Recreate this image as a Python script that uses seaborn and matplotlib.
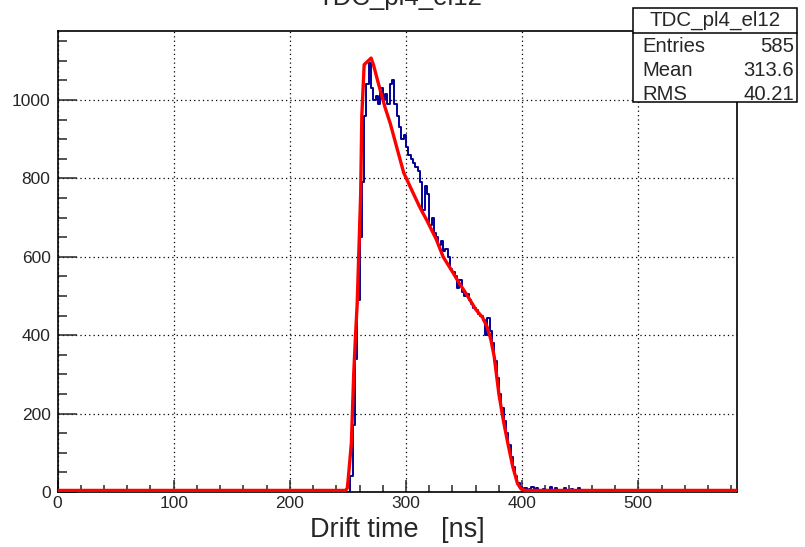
import numpy as np
import pandas as pd
import seaborn as sns
import matplotlib.pyplot as plt
from matplotlib.ticker import MultipleLocator

# histogram data: 2 ns bins
bin_width = 2
x_max = 586
signal_start = 250
signal_counts = [0, 40, 170, 340, 490, 650, 790, 960, 1040, 1095,
                 1030, 1000, 1010, 990, 1030, 1000, 1015, 990, 1040, 1050,
                 990, 960, 930, 900, 910, 880, 860, 850, 840, 830,
                 820, 790, 720, 780, 760, 680, 700, 660, 650, 630,
                 640, 615, 620, 600, 570, 560, 550, 520, 540, 510,
                 500, 505, 490, 480, 470, 465, 455, 450, 440, 400,
                 445, 410, 380, 335, 290, 250, 215, 180, 150, 120,
                 90, 64, 40, 22, 12, 8, 10, 6, 8, 12]
tail_times = [412, 418, 424, 428, 436, 442, 448, 456, 466, 472, 540, 552, 580]
tail_counts = [10, 8, 12, 9, 11, 7, 10, 6, 5, 4, 2, 2, 4]

# fitted curve
fit_t = [0, 248, 249.5, 250.5, 253, 255, 256.5, 258, 259.5, 261, 262, 264,
         270, 272, 276, 282, 286.5, 292, 298, 305, 312, 318, 326, 332,
         340, 346, 352, 360, 366, 370, 373, 376, 380, 384, 388, 392, 396,
         399, 403, 586]
fit_v = [4, 4, 10, 40, 125, 300, 395, 480, 620, 760, 960, 1090,
         1107, 1090, 1045, 981, 940, 880, 815, 770, 726, 693, 645, 600,
         562, 532, 505, 466, 445, 420, 390, 345, 250, 180, 120, 64, 22,
         8, 4, 4]

entries = 585
mean_val = 313.6
rms_val = 40.21
hist_name = "TDC_pl4_el12"

edges = np.arange(0, x_max + bin_width, bin_width)
counts = np.zeros(len(edges) - 1)
i0 = signal_start // bin_width
counts[i0:i0 + len(signal_counts)] = signal_counts
for t, c in zip(tail_times, tail_counts):
    counts[t // bin_width] = c
centers = edges[:-1] + bin_width / 2
hist_df = pd.DataFrame({"t": centers, "n": counts})
fit_df = pd.DataFrame({"t": fit_t, "v": fit_v})

sns.set_style("ticks")
plt.rcParams['font.family'] = ['Liberation Sans', 'DejaVu Sans']

fig = plt.figure(figsize=(8.05, 5.47), dpi=100)
ax = fig.add_axes([57.5 / 805, 1 - 492 / 547, (737 - 57.5) / 805, (492 - 31) / 547])

sns.histplot(data=hist_df, x="t", weights="n", binwidth=bin_width,
             binrange=(0, x_max), element="step", fill=False,
             color="#000099", linewidth=1.4, ax=ax, zorder=3)
sns.lineplot(data=fit_df, x="t", y="v", color="#ff0000", linewidth=2.4,
             ax=ax, zorder=4)

ax.set_xlim(0, 585)
ax.set_ylim(0, 1176)
ax.xaxis.set_major_locator(MultipleLocator(100))
ax.xaxis.set_minor_locator(MultipleLocator(20))
ax.yaxis.set_major_locator(MultipleLocator(200))
ax.yaxis.set_minor_locator(MultipleLocator(50))
ax.grid(True, which="major", color="black", linestyle=(0, (1, 2.5)), linewidth=0.9)
ax.tick_params(axis="x", which="major", direction="in", length=9, width=1.1,
               labelsize=12.5, pad=3, top=False)
ax.tick_params(axis="x", which="minor", direction="in", length=4.8, width=1.1, top=False)
ax.tick_params(axis="y", which="major", direction="in", length=13.5, width=1.1,
               labelsize=12.5, pad=5, right=False)
ax.tick_params(axis="y", which="minor", direction="in", length=6.5, width=1.1, right=False)
for s in ax.spines.values():
    s.set_linewidth(1.2)
    s.set_color("black")
ax.set_xlabel("Drift time   [ns]", fontsize=19.5, labelpad=4)
ax.set_ylabel("")

# title, cut off at the top like the original canvas
fig.text(0.497, 1 - 5 / 547, hist_name, ha="center", va="baseline", fontsize=18.5)

# stats box
bx0, bx1 = 633 / 805, 797 / 805
by0, by1, bsep = 1 - 102 / 547, 1 - 8 / 547, 1 - 33 / 547
box = plt.Rectangle((bx0, by0), bx1 - bx0, by1 - by0, transform=fig.transFigure,
                    facecolor="white", edgecolor="black", linewidth=1.1, zorder=10)
fig.add_artist(box)
fig.add_artist(plt.Line2D([bx0, bx1], [bsep, bsep], transform=fig.transFigure,
                          color="black", linewidth=1.1, zorder=11))
fig.text((bx0 + bx1) / 2, 1 - 20 / 547, hist_name, ha="center", va="center",
         fontsize=14.8, zorder=12)
rows = [("Entries", f"{entries}"), ("Mean", f"{mean_val}"), ("RMS", f"{rms_val}")]
for k, (lab, val) in enumerate(rows):
    yy = 1 - (47 + 23.5 * k) / 547
    fig.text(642 / 805, yy, lab, ha="left", va="center", fontsize=14.6, zorder=12)
    fig.text(794 / 805, yy, val, ha="right", va="center", fontsize=14.6, zorder=12)

fig.savefig("out.png", dpi=100)
